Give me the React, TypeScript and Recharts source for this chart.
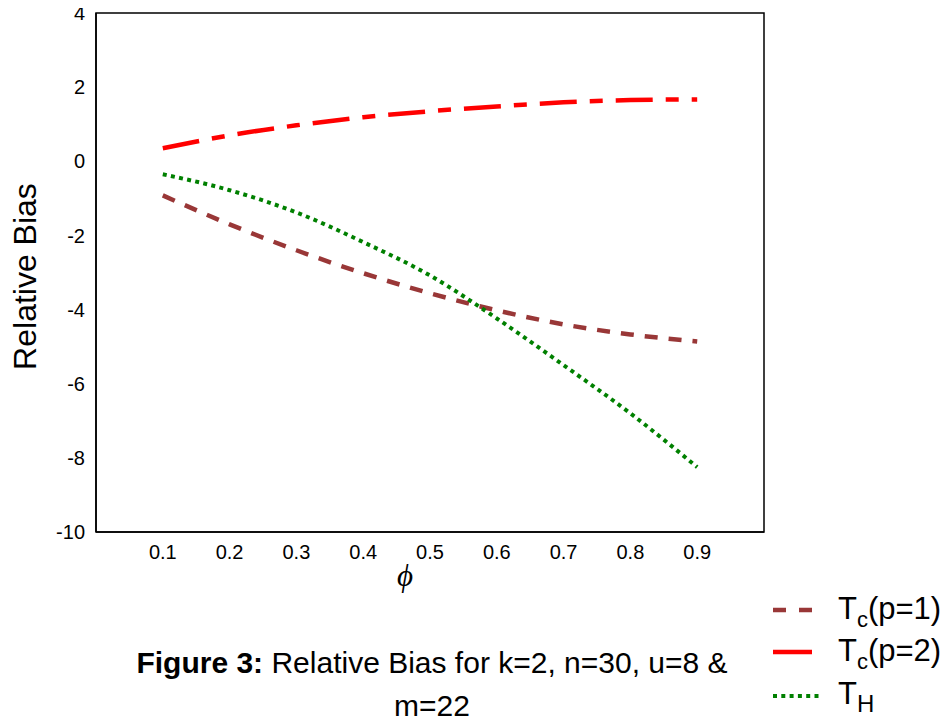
import { LineChart, Line, XAxis, YAxis, ReferenceArea } from 'recharts';

const phi = [0.1, 0.2, 0.3, 0.4, 0.5, 0.6, 0.7, 0.8, 0.9];
const tcP1 = [-0.92, -1.7, -2.4, -3.02, -3.56, -4.02, -4.4, -4.67, -4.86];
const tcP2 = [0.35, 0.7, 0.97, 1.19, 1.35, 1.48, 1.59, 1.65, 1.67];
const tH = [-0.35, -0.78, -1.38, -2.18, -3.08, -4.24, -5.5, -6.8, -8.25];
const yTicks = [-10, -8, -6, -4, -2, 0, 2, 4];

const FONT = '"Liberation Sans", Arial, sans-serif';

const data = phi.map((p, i) => ({ phi: p, tcP1: tcP1[i], tcP2: tcP2[i], tH: tH[i] }));

const XTick = ({ x, y, payload }: any) => (
  <text x={x} y={y} dy="0.71em" textAnchor="middle" fontSize={20} fontFamily={FONT} fill="#000">
    {payload.value}
  </text>
);

const YTick = ({ x, y, payload }: any) => (
  <text x={x} y={y} dy="0.355em" textAnchor="end" fontSize={20} fontFamily={FONT} fill="#000">
    {payload.value}
  </text>
);

export default function App() {
  // pulled up over the body margin so the top "4" label is not clipped
  return (
    <div style={{ position: 'relative', width: 944, height: 721, marginTop: -8, fontFamily: FONT }}>
      <LineChart width={944} height={608} data={data} margin={{ top: 13, right: 188, bottom: 24, left: 0 }}>
        <XAxis
          dataKey="phi"
          type="number"
          domain={[0, 1]}
          ticks={phi}
          height={52}
          tickLine={false}
          tickSize={0}
          tickMargin={13}
          axisLine={{ stroke: '#000', strokeWidth: 1.5 }}
          tick={<XTick />}
          label={{
            value: 'ϕ',
            position: 'insideBottom',
            offset: 0,
            dx: -25,
            dy: 2,
            style: { fontFamily: '"Liberation Serif", serif', fontStyle: 'italic', fontSize: 31, fill: '#000' },
          }}
        />
        <XAxis
          xAxisId="top"
          orientation="top"
          type="number"
          domain={[0, 1]}
          ticks={[0.1]}
          height={0}
          mirror
          tick={false}
          axisLine={false}
          tickSize={4}
          tickLine={{ stroke: '#000', strokeWidth: 1.2 }}
        />
        <YAxis
          type="number"
          domain={[-10, 4]}
          ticks={yTicks}
          width={88}
          tickLine={false}
          tickSize={0}
          tickMargin={11}
          axisLine={{ stroke: '#000', strokeWidth: 1.5 }}
          tick={<YTick />}
          label={{
            value: 'Relative Bias',
            angle: -90,
            position: 'center',
            dx: -27,
            dy: 4,
            style: { fontSize: 32, fill: '#000', fontFamily: FONT },
          }}
        />
        <ReferenceArea x1={0} x2={1} y1={-10} y2={4} fill="none" stroke="#000" strokeWidth={1.5} ifOverflow="visible" />
        <Line type="monotone" dataKey="tcP1" stroke="#993737" strokeWidth={4.5} strokeDasharray="13 11" dot={false} isAnimationActive={false} />
        <Line type="monotone" dataKey="tcP2" stroke="#ff0000" strokeWidth={4.5} strokeDasharray="37 13 13 13" dot={false} isAnimationActive={false} />
        <Line type="monotone" dataKey="tH" stroke="#008000" strokeWidth={4} strokeDasharray="4 4.3" dot={false} isAnimationActive={false} />
      </LineChart>

      <svg width={944} height={721} style={{ position: 'absolute', left: 0, top: 0, pointerEvents: 'none' }}>
        {/* legend */}
        <line x1={765} x2={804} y1={610} y2={610} stroke="#993737" strokeWidth={4.5} strokeDasharray="13 13" />
        <line x1={765} x2={804} y1={652} y2={652} stroke="#ff0000" strokeWidth={4.5} />
        <line x1={765} x2={812} y1={696} y2={696} stroke="#008000" strokeWidth={4} strokeDasharray="4 4.3" />
        <g fontFamily={FONT} fill="#000">
          <text x={830} y={619} fontSize={31}>
            T<tspan fontSize={22} dy={8}>c</tspan>
            <tspan dy={-8}>(p=1)</tspan>
          </text>
          <text x={830} y={661} fontSize={31}>
            T<tspan fontSize={22} dy={8}>c</tspan>
            <tspan dy={-8}>(p=2)</tspan>
          </text>
          <text x={830} y={704} fontSize={31}>
            T<tspan fontSize={24} dy={8}>H</tspan>
          </text>
          {/* caption */}
          <text x={424} y={673} fontSize={30} textAnchor="middle">
            <tspan fontWeight="bold">Figure 3:</tspan> Relative Bias for k=2, n=30, u=8 &amp;
          </text>
          <text x={424} y={716} fontSize={30} textAnchor="middle">
            m=22
          </text>
        </g>
      </svg>
    </div>
  );
}
